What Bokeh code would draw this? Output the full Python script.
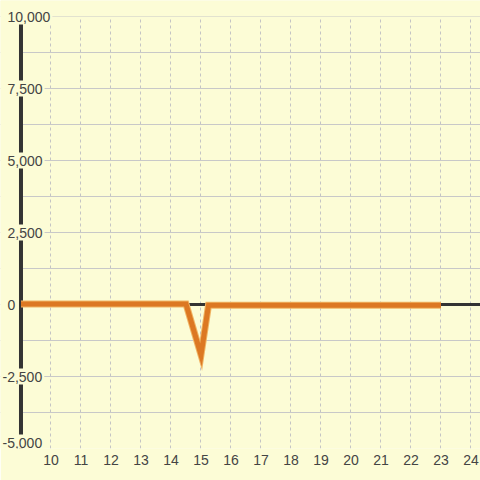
from bokeh.plotting import figure
from bokeh.models import (ColumnDataSource, SingleIntervalTicker,
                          FixedTicker, Range1d, Grid)
from bokeh.core.properties import value
from bokeh.embed import file_html
from bokeh.resources import INLINE

# ---- data ----
x_vals = [9.0, 14.5, 15.0, 15.25, 23.0]
y_vals = [20, 20, -1750, -30, -30]

x_ticks = [10, 11, 12, 13, 14, 15, 16, 17, 18, 19, 20, 21, 22, 23, 24]
y_ticks = [-5000, -2500, 0, 2500, 5000, 7500, 10000]
y_labels = ["-5,000", "-2,500", "0", "2,500", "5,000", "7,500", "10,000"]

x_axis_at = 9.0
x_start, x_end = 8.317, 24.317
y_start, y_end = -5000, 10556
y_top = 10000

W, H, BOTTOM = 480, 480, 32
BG = "#fcfcd6"
TXT = "#444444"
AXIS = "#333333"
ORANGE = "#dc7823"
FONT = "Liberation Sans"

p = figure(width=W, height=H, output_backend="svg", toolbar_location=None,
           x_range=Range1d(x_start, x_end), y_range=Range1d(y_start, y_end),
           y_axis_location=None,
           min_border_left=0, min_border_right=0, min_border_top=0, min_border_bottom=BOTTOM,
           background_fill_color=BG, border_fill_color=BG, outline_line_color=None)
p.ygrid.visible = False

# x axis
xa = p.xaxis[0]
xa.ticker = FixedTicker(ticks=x_ticks)
xa.axis_line_color = None
xa.major_tick_line_color = None
xa.minor_tick_line_color = None
xa.major_tick_in = 0
xa.major_tick_out = 0
xa.major_label_standoff = 6
xa.major_label_text_font_size = "14px"
xa.major_label_text_color = TXT
xa.major_label_text_font = FONT

p.xgrid.grid_line_color = "#c4c4c4"
p.xgrid.grid_line_dash = "3 3"
p.xgrid.grid_line_width = 1

yg = Grid(dimension=1, ticker=SingleIntervalTicker(interval=1250),
          grid_line_color="#c8c8c8", grid_line_width=1)
p.add_layout(yg)

# mask grid outside the plotting area (left of axis, above top)
p.vstrip(x0=[x_start], x1=[x_axis_at], fill_color=BG, line_color=None)
p.hstrip(y0=[y_top], y1=[y_end], fill_color=BG, line_color=None)

# axis lines (as glyphs so that labels can be drawn over them)
p.line(x=[x_axis_at, x_end], y=[0, 0], line_color=AXIS, line_width=3)
p.line(x=[x_axis_at, x_axis_at], y=[y_start, y_top], line_color=AXIS, line_width=4)

# series
p.line(x_vals, y_vals, line_color="#f0b464", line_width=7, line_join="miter")
p.line(x_vals, y_vals, line_color=ORANGE, line_width=5, line_join="miter")

# y labels drawn over the axis line with an opaque background
px_x = (x_end - x_start) / W
px_y = (y_end - y_start) / (H - BOTTOM)
CW = {",": 3.9, "-": 4.7}


def text_w(s):
    return sum(CW.get(c, 7.8) for c in s)


offs_x = [-18.5 if s.startswith("-") else -13.5 for s in y_labels]
offs_y = [-6 if v == min(y_ticks) else 0 for v in y_ticks]
widths = [text_w(s) + 3 for s in y_labels]
bg_x = [x_axis_at + (ox - 1 + w / 2) * px_x for ox, w in zip(offs_x, widths)]
bg_y = [v - oy * px_y for v, oy in zip(y_ticks, offs_y)]
p.rect(x=bg_x, y=bg_y, width=widths, height=16, width_units="screen",
       height_units="screen", fill_color=BG, line_color=None)

src = ColumnDataSource(dict(x=[x_axis_at] * len(y_ticks), y=y_ticks, text=y_labels,
                            xo=offs_x, yo=offs_y))
p.text(x="x", y="y", text="text", source=src, x_offset="xo", y_offset="yo",
       text_align="left", text_baseline="middle",
       text_font_size=value("14px"), text_color=TXT, text_font=value(FONT))

open("out.html", "w").write(file_html(p, INLINE))
